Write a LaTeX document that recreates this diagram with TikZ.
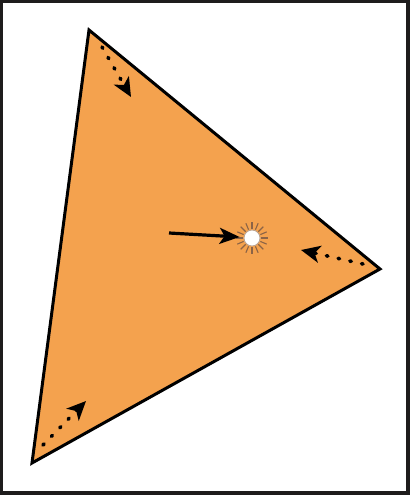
\documentclass[tikz,border=0pt]{standalone}
\usetikzlibrary{arrows.meta,calc}
\definecolor{tri}{RGB}{244,162,78}
\definecolor{frame}{RGB}{30,28,28}
\definecolor{ray}{RGB}{140,100,70}
\tikzset{
  dasharrow/.style={line width=3.6pt, dash pattern=on 1.5pt off 10.5pt, line cap=round, -{Stealth[length=19pt,width=17pt,inset=5pt,line cap=butt]}},
  solidarrow/.style={line width=3.2pt, -{Stealth[length=20pt,width=16pt,inset=5pt]}},
}
\begin{document}
\begin{tikzpicture}[x=1pt,y=-1pt]
\useasboundingbox (0,0) rectangle (410,495);
\fill[frame] (0,0) rectangle (410,495);
\fill[white] (3,3) rectangle (406,491);
\coordinate (A) at (89,30);
\coordinate (B) at (380,269);
\coordinate (C) at (32,463);
\filldraw[fill=tri, draw=black, line width=3pt, line join=miter] (A) -- (B) -- (C) -- cycle;
% dashed arrows
\coordinate (a1) at (102,47);
\coordinate (a2) at (131,97);
\draw[dasharrow] (a1) -- (a2);
\coordinate (b1) at (363,264);
\coordinate (b2) at (301,250);
\draw[dasharrow] (b1) -- (b2);
\coordinate (c1) at (43,445);
\coordinate (c2) at (86,401);
\draw[dasharrow] (c1) -- (c2);
% sun
\coordinate (S) at (252,238);
\foreach \a in {0,22.5,...,337.5}{
  \draw[ray, line width=1.1pt] ($(S)+(\a:9)$) -- ($(S)+(\a:16)$);
}
\node[circle, fill=white, draw=ray!60, line width=0.8pt, minimum size=16pt, inner sep=0pt] (sun) at (S) {};
\coordinate (m1) at (169,233);
\draw[solidarrow] (m1) -- ($(sun.west)+(-4,-1)$);
\end{tikzpicture}
\end{document}
